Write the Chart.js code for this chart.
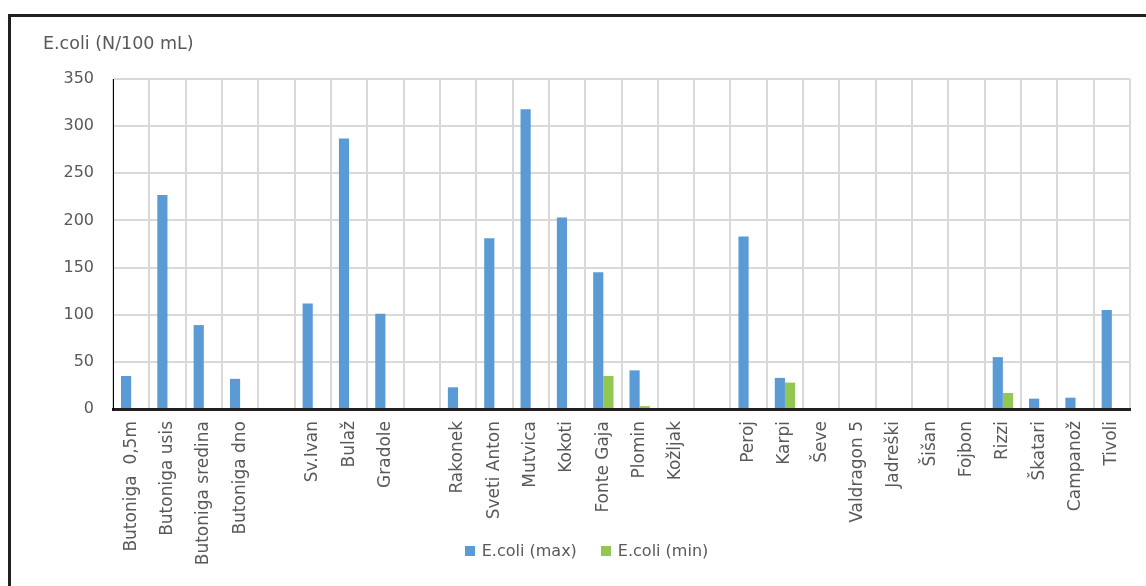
<!doctype html>
<html lang="hr">
    <head>
        <meta charset="utf-8">
        <script src="https://cdn.jsdelivr.net/npm/chart.js"></script>
        <style>
        html, body {
            margin: 0;
            padding: 0;
            background-color: #ffffff;
            overflow: hidden;
        }
        #frame {
            position: absolute;
            left: 8px;
            top: 14px;
            width: 1138px;
            height: 572px;
            border-top: 3px solid #231f20;
            border-left: 3px solid #231f20;
        }
        #frame canvas {
            display: block;
        }
        #legend {
            position: absolute;
            left: 43px;
            width: 1087px;
            top: 541px;
            display: flex;
            justify-content: center;
            gap: 24px;
            font-family: 'DejaVu Sans';
            font-size: 16px;
            color: #595959;
        }
        #legend span.item {
            display: flex;
            align-items: center;
        }
        #legend span.box {
            display: inline-block;
            width: 10px;
            height: 10px;
            margin-right: 7px;
        }
        </style>
        <title>E.coli</title>
    </head>
    <body>
        <div id="frame">
            <canvas id="chart" width="1135" height="569"></canvas>
        </div>
        <div id="legend"></div>
        <script>
        const categories = [
            'Butoniga  0,5m', 'Butoniga usis', 'Butoniga sredina', 'Butoniga dno', '',
            'Sv.Ivan', 'Bulaž', 'Gradole', '',
            'Rakonek', 'Sveti Anton', 'Mutvica', 'Kokoti', 'Fonte Gaja', 'Plomin', 'Kožljak', '',
            'Peroj', 'Karpi', 'Ševe', 'Valdragon 5', 'Jadreški', 'Šišan', 'Fojbon',
            'Rizzi', 'Škatari', 'Campanož', 'Tivoli'
        ];
        const ecoliMax = [
            35, 227, 89, 32, null,
            112, 287, 101, null,
            23, 181, 318, 203, 145, 41, null, null,
            183, 33, null, null, null, null, null,
            55, 11, 12, 105
        ];
        const ecoliMin = [
            null, null, null, null, null,
            null, null, null, null,
            null, null, null, null, 35, 3, null, null,
            null, 28, null, null, null, null, null,
            17, null, null, null
        ];
        const yTicks = [0, 50, 100, 150, 200, 250, 300, 350];

        const font = 'DejaVu Sans';
        const grey = '#595959';

        const chart = new Chart(document.getElementById('chart'), {
            type: 'bar',
            data: {
                labels: categories,
                datasets: [{
                    label: 'E.coli (max)',
                    data: ecoliMax,
                    backgroundColor: '#5b9bd5',
                    categoryPercentage: 0.56,
                    barPercentage: 1.0
                }, {
                    label: 'E.coli (min)',
                    data: ecoliMin,
                    backgroundColor: '#92c851',
                    categoryPercentage: 0.56,
                    barPercentage: 1.0
                }]
            },
            options: {
                responsive: false,
                animation: false,
                layout: {
                    padding: { left: 32, right: 16, top: 0, bottom: 0 }
                },
                plugins: {
                    title: {
                        display: true,
                        text: 'E.coli (N/100 mL)',
                        align: 'start',
                        color: grey,
                        font: { family: font, size: 17.5, weight: 'normal' },
                        padding: { top: 17, bottom: 24 }
                    },
                    legend: { display: false },
                    tooltip: { enabled: false }
                },
                scales: {
                    x: {
                        grid: {
                            color: '#d9d9d9',
                            lineWidth: 2,
                            drawTicks: false
                        },
                        border: { color: '#231f20', width: 3 },
                        ticks: {
                            autoSkip: false,
                            maxRotation: 90,
                            minRotation: 90,
                            padding: 12,
                            color: grey,
                            font: { family: font, size: 17 }
                        },
                        afterFit: function (scale) {
                            scale.height = 177;
                        }
                    },
                    y: {
                        min: 0,
                        max: 350,
                        grid: {
                            color: '#d9d9d9',
                            lineWidth: 2,
                            drawTicks: false
                        },
                        border: { color: '#000000', width: 1 },
                        afterBuildTicks: function (scale) {
                            scale.ticks = yTicks.map(v => ({ value: v }));
                        },
                        ticks: {
                            padding: 19,
                            color: grey,
                            font: { family: font, size: 16 }
                        },
                        afterFit: function (scale) {
                            scale.width = 70;
                        }
                    }
                }
            }
        });

        // legend as html, built from the datasets
        const legend = document.getElementById('legend');
        chart.data.datasets.forEach(function (ds) {
            const item = document.createElement('span');
            item.className = 'item';
            item.innerHTML = '<span class="box" style="background:' + ds.backgroundColor + '"></span>' + ds.label;
            legend.appendChild(item);
        });
        </script>
    </body>
</html>
